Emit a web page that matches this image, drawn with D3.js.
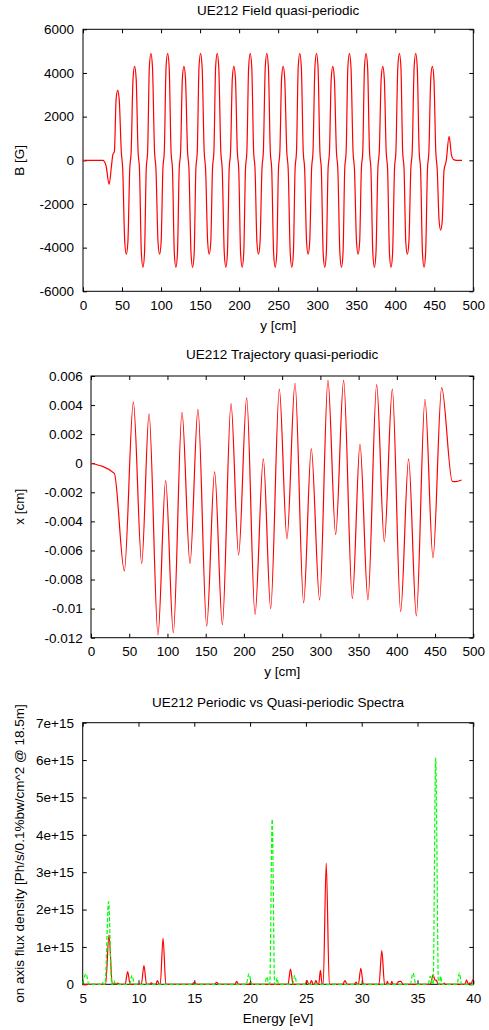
<html>
<head>
<meta charset="utf-8">
<title>UE212</title>
<style>
body { margin: 0; background: #fff; }
svg text { font-family: "Liberation Sans", Arial, sans-serif; font-size: 13.5px; fill: #000; }
</style>
</head>
<body>
<script src="https://cdn.jsdelivr.net/npm/d3@7/dist/d3.min.js"></script>
<script>
// panel 1: field B [G] along y [cm], one row per extremum:
// before, extremum, after, then the two shoulder points near the next zero crossing
var fieldY = [0, 25.5, 29.5, 33.5, 36.5, 38.2, 40.2,
  42.4, 44.4, 46.4, 49.05, 50.85,
  53.5, 55.5, 57.5, 59.9, 61.7,
  64.1, 66.1, 68.1, 70.55, 72.35,
  74.8, 76.8, 78.8, 81.0, 82.8,
  85.0, 87.0, 89.0, 91.65, 93.45,
  96.1, 98.1, 100.1, 102.35, 104.15,
  106.4, 108.4, 110.4, 112.8, 114.6,
  117.0, 119.0, 121.0, 123.25, 125.05,
  127.3, 129.3, 131.3, 133.95, 135.75,
  138.4, 140.4, 142.4, 144.6, 146.4,
  148.6, 150.6, 152.6, 155.25, 157.05,
  159.7, 161.7, 163.7, 165.9, 167.7,
  169.9, 171.9, 173.9, 176.55, 178.35,
  181.0, 183.0, 185.0, 187.25, 189.05,
  191.3, 193.3, 195.3, 197.7, 199.5,
  201.9, 203.9, 205.9, 208.15, 209.95,
  212.2, 214.2, 216.2, 218.6, 220.4,
  222.8, 224.8, 226.8, 229.25, 231.05,
  233.5, 235.5, 237.5, 239.95, 241.75,
  244.2, 246.2, 248.2, 250.4, 252.2,
  254.4, 256.4, 258.4, 261.05, 262.85,
  265.5, 267.5, 269.5, 271.7, 273.5,
  275.7, 277.7, 279.7, 282.15, 283.95,
  286.4, 288.4, 290.4, 292.85, 294.65,
  297.1, 299.1, 301.1, 303.5, 305.3,
  307.7, 309.7, 311.7, 313.95, 315.75,
  318.0, 320.0, 322.0, 324.65, 326.45,
  329.1, 331.1, 333.1, 335.3, 337.1,
  339.3, 341.3, 343.3, 345.95, 347.75,
  350.4, 352.4, 354.4, 356.6, 358.4,
  360.6, 362.6, 364.6, 367.05, 368.85,
  371.3, 373.3, 375.3, 377.75, 379.55,
  382.0, 384.0, 386.0, 388.4, 390.2,
  392.6, 394.6, 396.6, 399.05, 400.85,
  403.3, 405.3, 407.3, 409.5, 411.3,
  413.5, 415.5, 417.5, 419.95, 421.75,
  424.2, 426.2, 428.2, 430.65, 432.45,
  434.9, 436.9, 438.9, 441.3, 443.1,
  445.5, 447.5, 449.5, 451.95, 453.75,
  456.2, 458.2, 460.2, 462.5, 465.2, 469.0, 472.0, 474.5, 478.5, 485.5];
var fieldB = [0, 0, -250, -1100, -250, 250, 400,
  2780, 3200, 2780, 400, -400,
  -3740, -4300, -3740, -400, 400,
  3740, 4300, 3740, 400, -400,
  -4260, -4900, -4260, -400, 400,
  4260, 4900, 4260, 400, -400,
  -3740, -4300, -3740, -400, 400,
  4260, 4900, 4260, 400, -400,
  -4260, -4900, -4260, -400, 400,
  3740, 4300, 3740, 400, -400,
  -4260, -4900, -4260, -400, 400,
  4260, 4900, 4260, 400, -400,
  -3740, -4300, -3740, -400, 400,
  4260, 4900, 4260, 400, -400,
  -4260, -4900, -4260, -400, 400,
  3740, 4300, 3740, 400, -400,
  -4260, -4900, -4260, -400, 400,
  4260, 4900, 4260, 400, -400,
  -3740, -4300, -3740, -400, 400,
  4260, 4900, 4260, 400, -400,
  -4260, -4900, -4260, -400, 400,
  3740, 4300, 3740, 400, -400,
  -4260, -4900, -4260, -400, 400,
  4260, 4900, 4260, 400, -400,
  -3740, -4300, -3740, -400, 400,
  4260, 4900, 4260, 400, -400,
  -4260, -4900, -4260, -400, 400,
  3740, 4300, 3740, 400, -400,
  -4260, -4900, -4260, -400, 400,
  4260, 4900, 4260, 400, -400,
  -3740, -4300, -3740, -400, 400,
  4260, 4900, 4260, 400, -400,
  -4260, -4900, -4260, -400, 400,
  3740, 4300, 3740, 400, -400,
  -4260, -4900, -4260, -400, 400,
  4260, 4900, 4260, 400, -400,
  -3740, -4300, -3740, -400, 400,
  4260, 4900, 4260, 400, -400,
  -4260, -4900, -4260, -400, 400,
  3740, 4300, 3740, 400, -400,
  -2780, -3200, -2780, -450, -50, 1100, 250, 40, 0, 0];
var fieldTicksX = [0, 50, 100, 150, 200, 250, 300, 350, 400, 450, 500];
var fieldTicksB = [-6000, -4000, -2000, 0, 2000, 4000, 6000];

// panel 2: trajectory x [cm] along y [cm]
var trajY = [0, 30.5, 43.6, 55.4, 66.3, 75.9, 87.6, 97.6, 107.7, 119.0, 129.5, 139.9,
  151.3, 161.7, 171.8, 183.1, 193.1, 203.6, 214.5, 225.4, 235.0, 246.3,
  256.3, 266.8, 278.1, 288.1, 299.0, 309.9, 320.0, 330.4, 341.8, 351.8,
  362.2, 373.6, 383.6, 394.1, 405.0, 415.4, 425.5, 436.8, 447.3, 458.6,
  472.5, 476.5, 484.7];
var trajX = [0, -0.0007, -0.0074, 0.0042, -0.0069, 0.0034, -0.0118, -0.0012, -0.01165, 0.0035, -0.0069, 0.0037,
  -0.0112, -0.0006, -0.0111, 0.0041, -0.0063, 0.0045, -0.0104, 0.0003, -0.0100, 0.0051,
  -0.0052, 0.0055, -0.0096, 0.0010, -0.0094, 0.0057, -0.0049, 0.0057, -0.0093, 0.0013,
  -0.0094, 0.0054, -0.0054, 0.0051, -0.0102, 0.0003, -0.0105, 0.0044, -0.0065, 0.0052,
  -0.00125, -0.00127, -0.00115];
var trajTicks = [0.006, 0.004, 0.002, 0, -0.002, -0.004, -0.006, -0.008, -0.01, -0.012];
var trajTickLabels = ["0.006", "0.004", "0.002", "0", "-0.002", "-0.004", "-0.006", "-0.008", "-0.01", "-0.012"];

// panel 3: spectra, flux in units of 1e15
var energyQ = [5.0, 7.05, 7.36, 7.65, 7.85, 8.0, 8.15, 8.3,
  8.8, 9.03, 9.25, 10.25, 10.49, 10.72, 11.0, 11.15, 11.3, 11.55, 11.7, 11.85,
  11.95, 12.2, 12.45, 14.8, 15.0, 15.2, 16.8, 17.0, 17.2, 18.65, 18.8, 18.95,
  19.9, 20.05, 20.2, 23.4, 23.62, 23.85,
  24.95, 25.1, 25.25, 25.35, 25.5, 25.65, 25.75, 25.9, 26.05,
  26.15, 26.3, 26.45, 26.55, 26.82, 27.1,
  28.3, 28.5, 28.7, 29.35, 29.5, 29.6, 29.7, 29.92, 30.15,
  31.55, 31.8, 32.05, 32.2, 32.3, 32.4, 32.6, 32.7, 32.8, 33.1, 33.3, 33.5, 33.7,
  36.15, 36.4, 36.55, 36.7, 36.85, 37.3, 37.4, 37.5,
  39.25, 39.4, 39.55, 39.7, 39.8, 39.95, 40.0];
var fluxQ = [0, 0, 1.32, 0, 0.03, 0, 0.03, 0,
  0, 0.34, 0, 0, 0.50, 0, 0, 0.04, 0, 0, 0.10, 0,
  0, 1.23, 0, 0, 0.05, 0, 0, 0.05, 0, 0, 0.08, 0,
  0, 0.05, 0, 0, 0.41, 0,
  0, 0.10, 0, 0, 0.10, 0, 0, 0.10, 0,
  0, 0.37, 0, 0, 3.24, 0,
  0, 0.10, 0, 0, 0.06, 0, 0, 0.43, 0,
  0, 0.90, 0, 0, 0.08, 0, 0, 0.08, 0, 0, 0.07, 0.08, 0,
  0, 0.25, 0.12, 0.10, 0, 0, 0.03, 0,
  0, 0.12, 0, 0.04, 0, 0.12, 0.10];
var energyP = [5.0, 5.3, 5.55, 6.6, 6.75, 6.9, 7.0, 7.32, 7.6, 7.7, 7.8, 7.95,
  9.2, 9.42, 9.65, 19.65, 19.9, 20.15, 21.3, 21.5, 21.7, 21.76, 21.98, 22.2,
  22.3, 22.42, 22.55, 23.8, 24.0, 24.2, 34.35, 34.6, 34.85, 35.95, 36.15, 36.35,
  36.4, 36.63, 36.88, 36.95, 37.07, 37.2, 38.55, 38.75, 38.95, 40.0];
var fluxP = [0.02, 0.28, 0, 0, 0.06, 0, 0, 2.21, 0, 0, 0.10, 0,
  0, 0.24, 0, 0, 0.28, 0, 0, 0.20, 0, 0, 4.42, 0,
  0, 0.17, 0, 0, 0.24, 0, 0, 0.30, 0, 0, 0.22, 0,
  0, 6.05, 0, 0, 0.22, 0, 0, 0.30, 0, 0];
var specTicksX = [5, 10, 15, 20, 25, 30, 35, 40];
var specTicksY = [0, 1, 2, 3, 4, 5, 6, 7];
var specTickLabels = ["0", "1e+15", "2e+15", "3e+15", "4e+15", "5e+15", "6e+15", "7e+15"];

var svg = d3.select("body").append("svg")
  .attr("width", 489)
  .attr("height", 1030);
svg.append("rect").attr("width", 489).attr("height", 1030).attr("fill", "#fff");

function zip(a, b) {
  return a.map(function(d, i) { return [d, b[i]]; });
}
function plain(d) { return String(d); }

function panel(p) {
  var x = d3.scaleLinear().domain(p.xd).range([p.left, p.right]);
  var y = d3.scaleLinear().domain(p.yd).range([p.bottom, p.top]);
  var g = svg.append("g");

  // inward ticks on all four sides, like gnuplot
  var ax = [
    [d3.axisBottom(x).tickValues(p.xt).tickFormat(p.xf || plain), "translate(0," + p.bottom + ")", p.padX],
    [d3.axisTop(x).tickValues(p.xt).tickFormat(""), "translate(0," + p.top + ")", 0],
    [d3.axisLeft(y).tickValues(p.yt).tickFormat(p.yf || plain), "translate(" + p.left + ",0)", p.padY],
    [d3.axisRight(y).tickValues(p.yt).tickFormat(""), "translate(" + p.right + ",0)", 0]
  ];
  ax.forEach(function(a) {
    var ag = g.append("g").attr("transform", a[1])
      .call(a[0].tickSize(-4).tickPadding(a[2]));
    ag.select(".domain").remove();
    ag.attr("font-size", null).attr("font-family", null);
    ag.selectAll("line").attr("stroke", "#000");
  });

  g.append("rect")
    .attr("x", p.left).attr("y", p.top)
    .attr("width", p.right - p.left).attr("height", p.bottom - p.top)
    .attr("fill", "none").attr("stroke", "#000").attr("stroke-width", 1);

  p.series.forEach(function(s) {
    var line = d3.line()
      .x(function(d) { return x(d[0]); })
      .y(function(d) { return y(d[1]); })
      .curve(d3.curveMonotoneX);
    g.append("path")
      .attr("d", line(zip(s.xs, s.ys)))
      .attr("fill", "none")
      .attr("stroke", s.color)
      .attr("stroke-width", 1.2)
      .attr("stroke-dasharray", s.dash || null);
  });

  g.append("text").attr("x", (p.left + p.right) / 2).attr("y", p.titleY)
    .attr("text-anchor", "middle").text(p.title);
  g.append("text").attr("x", (p.left + p.right) / 2).attr("y", p.xlabY)
    .attr("text-anchor", "middle").text(p.xlab);
  g.append("text")
    .attr("transform", "translate(24," + (p.top + p.bottom) / 2 + ") rotate(-90)")
    .attr("text-anchor", "middle").text(p.ylab);
}

panel({
  left: 83, right: 473.3, top: 29.3, bottom: 291.3,
  xd: [0, 500], yd: [-6000, 6000],
  xt: fieldTicksX, yt: fieldTicksB,
  padX: 9.5, padY: 9,
  title: "UE212 Field quasi-periodic", titleY: 14.5,
  xlab: "y [cm]", xlabY: 329.5, ylab: "B [G]",
  series: [{ xs: fieldY, ys: fieldB, color: "#ff0000" }]
});

panel({
  left: 91, right: 473.3, top: 376, bottom: 637.7,
  xd: [0, 500], yd: [-0.012, 0.006],
  xt: fieldTicksX, yt: trajTicks,
  yf: function(d, i) { return trajTickLabels[i]; },
  padX: 9, padY: 8.3,
  title: "UE212 Trajectory quasi-periodic", titleY: 359,
  xlab: "y [cm]", xlabY: 675.5, ylab: "x [cm]",
  series: [{ xs: trajY, ys: trajX, color: "#ff0000" }]
});

panel({
  left: 82.7, right: 473.3, top: 722.7, bottom: 984.3,
  xd: [5, 40], yd: [0, 7],
  xt: specTicksX, yt: specTicksY,
  yf: function(d, i) { return specTickLabels[i]; },
  padX: 9, padY: 8.7,
  title: "UE212 Periodic vs Quasi-periodic Spectra", titleY: 706.5,
  xlab: "Energy [eV]", xlabY: 1022.7,
  ylab: "on axis flux density [Ph/s/0.1%bw/cm^2 @ 18.5m]",
  series: [
    { xs: energyQ, ys: fluxQ, color: "#ff0000" },
    { xs: energyP, ys: fluxP, color: "#00ff00", dash: "4,2" }
  ]
});
</script>
</body>
</html>
